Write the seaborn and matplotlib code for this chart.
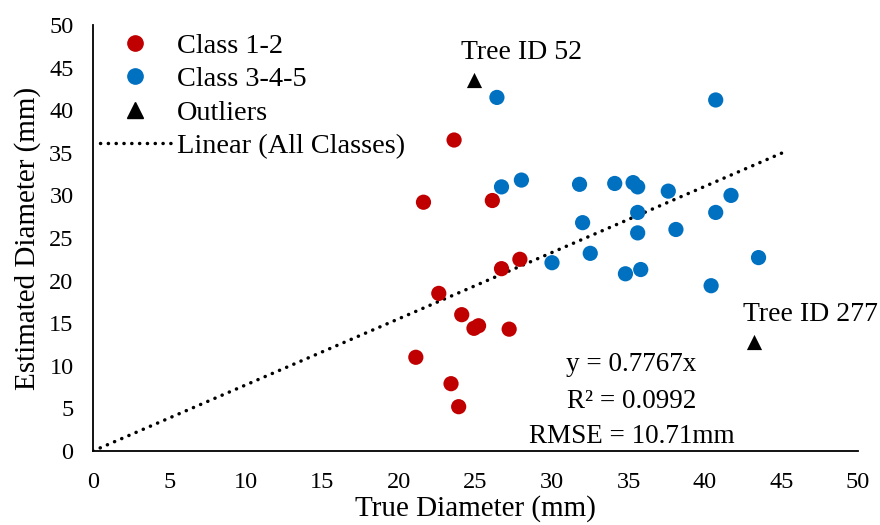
import matplotlib
matplotlib.use("Agg")
import matplotlib.pyplot as plt
from matplotlib.lines import Line2D
import seaborn as sns
import pandas as pd

# ---- data ----
class12_x = [23.6, 21.6, 26.1, 26.7, 27.9, 22.6, 24.1, 24.9, 25.2, 27.2, 21.1, 23.4, 23.9]
class12_y = [36.5, 29.2, 29.4, 21.4, 22.5, 18.5, 16.0, 14.4, 14.7, 14.3, 11.0, 7.9, 5.2]

class345_x = [26.4, 40.7, 26.7, 28.0, 31.8, 34.1, 35.3, 35.6, 37.6, 41.7, 35.6,
              40.7, 32.0, 38.1, 35.6, 32.5, 43.5, 30.0, 34.8, 35.8, 40.4]
class345_y = [41.5, 41.2, 31.0, 31.8, 31.3, 31.4, 31.5, 31.0, 30.5, 30.0, 28.0,
              28.0, 26.8, 26.0, 25.6, 23.2, 22.7, 22.1, 20.8, 21.3, 19.4]

outlier_x = [24.9, 43.2]
outlier_y = [43.5, 12.8]
outlier_labels = ["Tree ID 52", "Tree ID 277"]

slope = 0.7767
trend_x = [0.0, 45.2]
r2 = 0.0992
rmse = 10.71

xticks = [0, 5, 10, 15, 20, 25, 30, 35, 40, 45, 50]
yticks = [0, 5, 10, 15, 20, 25, 30, 35, 40, 45, 50]

RED = "#C00000"
BLUE = "#0070C0"

df = pd.DataFrame({
    "x": class12_x + class345_x,
    "y": class12_y + class345_y,
    "cls": ["Class 1-2"] * len(class12_x) + ["Class 3-4-5"] * len(class345_x),
})
df_out = pd.DataFrame({"x": outlier_x, "y": outlier_y})

sns.set_theme(style="white")
plt.rcParams["font.family"] = ["Liberation Serif", "DejaVu Serif"]
plt.rcParams["text.color"] = "black"
plt.rcParams["axes.labelcolor"] = "black"
plt.rcParams["legend.labelcolor"] = "black"

fig = plt.figure(figsize=(8.8, 5.25), dpi=100)
ax = fig.add_axes([93 / 880, 1 - 451 / 525, (858 - 93) / 880, (451 - 25) / 525])

sns.scatterplot(data=df, x="x", y="y", hue="cls",
                palette={"Class 1-2": RED, "Class 3-4-5": BLUE},
                s=120, linewidth=0, legend=False, ax=ax, zorder=3)
sns.scatterplot(data=df_out, x="x", y="y", marker="^", color="black",
                s=120, linewidth=0, legend=False, ax=ax, zorder=3)

DOT = (0, (0.05, 2.2))
trend_y = [slope * v for v in trend_x]
ax.plot(trend_x, trend_y, color="black", lw=2.5,
        linestyle=DOT, dash_capstyle="round", zorder=2)

# outlier labels
ax.text(outlier_x[0] + 3.1, outlier_y[0] + 3.3, outlier_labels[0],
        ha="center", va="center", fontsize=20, color="black")
ax.text(outlier_x[1] + 3.7, outlier_y[1] + 3.2, outlier_labels[1],
        ha="center", va="center", fontsize=20, color="black")

# equation text
ax.text(35.2, 10.1, f"y = {slope}x", ha="center", va="center", fontsize=19.5, color="black")
ax.text(35.2, 5.8, f"R² = {r2}", ha="center", va="center", fontsize=19.5, color="black")
ax.text(35.2, 1.7, f"RMSE = {rmse}mm", ha="center", va="center", fontsize=19.5, color="black")

ax.set_xlim(0, 50)
ax.set_ylim(0, 50)
ax.set_xticks(xticks)
ax.set_yticks(yticks)
ax.set_xticklabels([str(t) for t in xticks])
ax.set_yticklabels([str(t) for t in yticks])
ax.tick_params(axis="both", length=0, labelsize=17.5, colors="black")
ax.tick_params(axis="x", pad=15)
ax.tick_params(axis="y", pad=14)

for side in ["top", "right"]:
    ax.spines[side].set_visible(False)
for side in ["left", "bottom"]:
    ax.spines[side].set_color("black")
    ax.spines[side].set_linewidth(1.3)

ax.set_xlabel("True Diameter (mm)", fontsize=21, color="black", labelpad=1.5)
ax.set_ylabel("Estimated Diameter (mm)", fontsize=21, color="black", labelpad=6)

handles = [
    Line2D([], [], marker="o", color=RED, linestyle="none", markersize=11),
    Line2D([], [], marker="o", color=BLUE, linestyle="none", markersize=11),
    Line2D([], [], marker="^", color="black", linestyle="none", markersize=11),
    Line2D([], [], color="black", lw=2.5, linestyle=DOT, dash_capstyle="round"),
]
labels = ["Class 1-2", "Class 3-4-5", "Outliers", "Linear (All Classes)"]
ax.legend(handles, labels, loc="upper left", bbox_to_anchor=(100 / 880, 1 - 33 / 525),
          bbox_transform=fig.transFigure, frameon=False, fontsize=20.4,
          handlelength=2.5, handletextpad=0.22, labelspacing=0.27,
          borderaxespad=0, borderpad=0)

fig.savefig("out.png", dpi=100)
